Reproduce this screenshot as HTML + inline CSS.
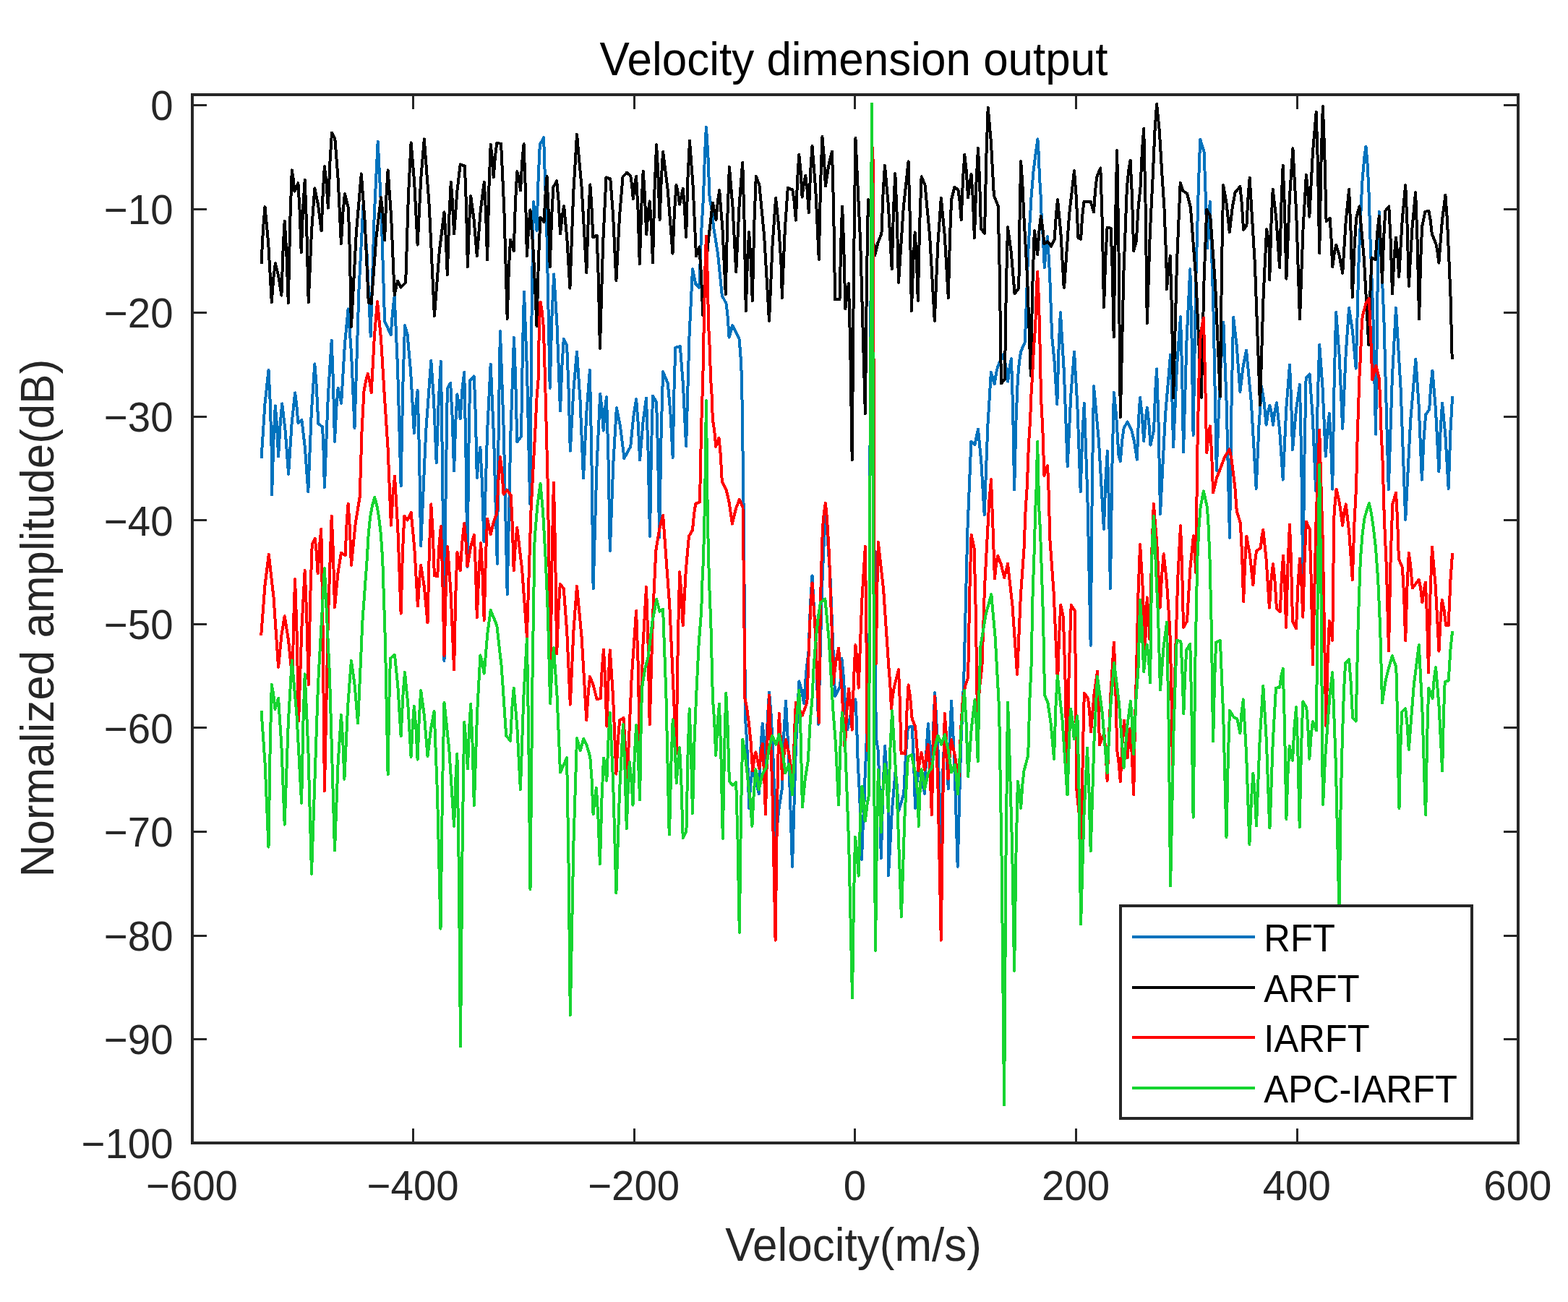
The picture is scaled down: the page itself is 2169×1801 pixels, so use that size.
<!DOCTYPE html>
<html lang="en"><head><meta charset="utf-8"><title>Velocity dimension output</title>
<style>html,body{margin:0;padding:0;background:#fff;}body{width:2169px;height:1801px;overflow:hidden;}svg{display:block;}text{font-family:"Liberation Sans",Arial,Helvetica,sans-serif;}.tk{font-size:56.4px;fill:#262626;}.lb{font-size:62px;fill:#262626;}.tt{font-size:62px;fill:#000;}.lg{font-size:50.7px;fill:#000;}.c{fill:none;stroke-linejoin:round;stroke-linecap:butt;shape-rendering:crispEdges;}</style></head><body>
<svg width="2169" height="1801" viewBox="0 0 2169 1801" role="img" aria-label="Velocity dimension output">
<rect x="0" y="0" width="2169" height="1801" fill="#ffffff"/>
<g id="curves">
<polyline class="c" stroke="#0072BD" stroke-width="4.0" points="361.5,634.3 366.5,558.4 371.5,511.9 373.7,555.4 375.8,626.5 376.1,684.5 378.5,608.1 380.8,561.3 383,588 385.1,631.4 387.7,586.2 390.2,558.4 394.6,595.4 399.1,655.8 403.6,586.1 408.1,543.4 410.2,559.2 412.4,585 417.4,580.7 421.8,618.5 426.3,680.2 430.8,570.5 435.3,503.3 437.8,534.6 440.3,585.7 446.1,590.7 447.5,622.5 448.9,674.4 453.8,548.3 458.7,471 460.8,524.1 463,610.8 465.3,565 467.6,536.9 472.1,557.7 476.9,476.9 481.6,427.3 486.1,489.9 490.5,592.1 496.5,400.5 502.5,283 507.6,352.3 512.7,465.3 517.7,298.3 522.7,195.9 527.4,290.4 532.1,444.5 540.7,463.1 543.2,430.3 545.7,410.1 550.1,509.7 554.6,672.3 557.3,534.6 560,450.2 563.6,463.1 568.2,514.9 572.9,599.3 575.3,562.4 577.6,539.8 579.9,621.7 582.2,755.4 589.2,596.4 596.3,499 600,552.6 603.7,640 606.8,553 609.9,499.7 612.2,657.3 614.5,914.4 616.6,680.8 618.8,537.7 623.1,529.8 625.6,576 628.1,651.5 630.2,585.8 632.4,545.5 634.5,558.3 636.7,579.2 639.4,539.2 642.2,514.7 644.3,617.1 646.5,784.1 648.3,624.2 650.1,526.2 655.8,520.5 657.8,573.8 659.8,660.8 662.1,634.7 664.4,618.6 666.9,668.2 669.4,749 674.1,596.8 678.7,503.5 683.2,608.5 687.8,779.8 689.8,580.3 691.9,458.1 696.8,596.4 701.7,822.1 706.3,601.9 711,467 713.1,521.9 715.3,611.5 721,603.6 723,479.6 725,403.6 729.1,515.3 733.2,697.4 735.5,438 737.8,279.1 740.1,294.3 742.5,319.2 744.7,245.4 746.8,200.2 752.1,190.2 756.4,322 760.7,536.9 763.4,439.3 766.2,379.4 770.6,451.2 775,568.5 777.4,506.7 779.8,468.9 784.1,477.5 786.4,533 788.8,623.7 793.4,538.8 798,486.8 802.5,553.2 807,661.5 811.5,568.7 815.9,511.9 818.3,626.7 820.6,814.2 825.4,647.2 830.2,544.8 832.5,564.2 834.7,595.7 836.8,566.8 839,549.1 841.4,630 843.8,761.9 848.4,639.3 852.9,564.2 857.9,589 862.9,629.4 863.2,634.3 872.2,617.9 876.2,577 880.1,552 882.6,584.1 885.1,636.4 889.6,583.2 894,550.6 896.5,623.2 899,741.8 901,621.5 903,547.7 908.1,556.3 910.1,627.3 912.1,743.2 914.6,601.1 917.1,514 923.8,530.5 927.3,569.4 930.7,632.9 932.5,538.7 934.3,481 940.8,478.9 944.9,531.5 949.1,617.2 953.5,465.3 958,372.2 962.3,392.9 967.3,397.9 970.2,320.7 973,273.3 975,212.9 976.9,175.9 979.3,212.9 981.6,273.3 984.5,289.7 987.4,316.3 993.1,351.4 998.8,408.7 1004.6,420.1 1006.6,437.8 1008.6,466.7 1013.2,450.2 1022.5,468.9 1024.3,489.6 1026.1,523.3 1028.6,702.4 1031.1,994.7 1032.9,1021.9 1034.7,1066.3 1036.1,1117.9 1038.2,1085.9 1040.4,1066.3 1045.1,1078.3 1049.7,1097.9 1052.2,1037.9 1054.7,1001.1 1057,1023.2 1059.3,1059.2 1061.7,996.1 1064,957.4 1066.6,987.9 1069.1,1037.7 1070.9,1087.5 1072.6,1168.7 1077.2,1120.8 1081.7,1091.4 1084.3,1015.9 1087,969.6 1091.5,1056.7 1096,1198.8 1100.7,1039.8 1105.3,942.3 1108.7,954.1 1112.1,973.2 1115.3,928.7 1118.5,901.5 1121,836.3 1123.5,796.3 1127.8,874.4 1132.1,1001.8 1137,814.7 1141.9,700 1148.5,800 1155.1,963.1 1162.2,948.8 1164.4,910.8 1166.9,937.2 1169.4,980.3 1170.8,991.2 1172.3,1009 1177.8,983.2 1183.4,967.4 1185,999.6 1186.6,1052 1189.3,1104 1192,1188.8 1193.8,1139.9 1195.5,1110 1196.8,1066.6 1198.2,1040 1199.5,990 1201,921.8 1202.5,880 1203.4,640 1204.6,400 1205.5,280 1206.2,250 1207.2,400 1208.4,640 1210.8,900 1211.8,1020 1214.8,1039.1 1216.8,1095.4 1218.8,1187.3 1221.5,1091 1224.1,1031.9 1226.4,1066.8 1228.7,1123.7 1229,1211 1233.9,1121.3 1238.7,1066.3 1240.9,1087.6 1243,1122.2 1250.2,1097.9 1253.1,1041 1255.9,1006.1 1261.7,1004.7 1263.8,1047.7 1266,1117.9 1268.1,1085.9 1270.3,1066.3 1274.7,1078.3 1279.2,1097.9 1281.5,1037.9 1283.9,1001.1 1286.4,1036.8 1288.9,1095 1291,1010.1 1293.2,958.1 1297.5,1037 1301.8,1165.8 1304.3,1068.6 1306.8,1009 1309.3,1040.3 1311.8,1091.4 1314,1015.9 1316.1,969.6 1320.4,1056.7 1324.7,1198.8 1329,1036.7 1333.3,937.3 1338.3,734.9 1343.4,610.8 1348.4,615.1 1353,593.6 1357.3,638.7 1361.7,712.4 1366.3,589.8 1370.9,514.7 1375.6,531.2 1378.1,515.7 1380.6,506.1 1387.8,490.4 1391,504.5 1394.2,527.6 1396.6,508.1 1399,496.1 1401.1,565 1403.1,677.3 1405.5,581.8 1407.9,523.3 1410,500.2 1412.2,486.1 1417.9,473.2 1422.2,349.3 1426.5,273.3 1429.4,237.8 1432.2,216 1435.4,192.3 1436.7,212.2 1438,244.7 1439.4,266.4 1440.8,302 1442.8,327.9 1444.8,370.1 1447,343.4 1449.1,327.1 1452.1,379.9 1455.2,466 1458.7,501.4 1462.3,559.2 1464.6,480.5 1466.9,432.3 1471.8,513.2 1476.7,645 1481.3,546.9 1486,486.8 1490.3,560.3 1494.7,680.2 1497.2,604.3 1499.8,557.7 1504.3,685.1 1508.7,892.9 1510.8,670.4 1513,534.1 1519.9,609.2 1526.9,731.8 1529.4,664.7 1531.9,623.7 1533.9,696.1 1535.9,814.2 1538.4,645.8 1540.9,542.7 1544.2,575.6 1547.4,629.4 1549.8,637.9 1552.2,609.5 1554.6,592.1 1559.6,583.5 1565.3,595 1569,610.5 1572.8,635.7 1574.9,582.5 1577.1,549.8 1579.6,572.7 1582.2,610 1584.5,581.2 1586.8,563.5 1589.2,583.3 1591.5,615.8 1596.1,595 1598.1,542.6 1600.1,510.4 1602.6,586.6 1605,711 1612,574.2 1619.1,490.4 1621.1,539.1 1623.1,618.6 1628,506.7 1633,438 1635,509.1 1637,625.1 1641.6,468.3 1646.3,372.2 1648.4,459.6 1650.6,602.2 1654.2,389.4 1657.8,259 1660.2,192.6 1665.6,210.3 1667.8,273.3 1669.9,343.6 1671.9,303.6 1673.8,279.1 1678.3,420.3 1682.8,650.8 1687.6,523.8 1692.4,445.9 1696.7,559.2 1701,743.9 1703.6,554.7 1706.1,438.8 1710.7,478 1715.4,542 1719.7,506.4 1724.1,484.6 1730.9,557.3 1737.7,675.9 1741.5,588.4 1745.2,534.8 1748.4,554.9 1751.6,587.8 1754,570.9 1756.4,560.6 1758.7,570.9 1761,587.8 1763.5,568.7 1766,557 1770.3,597.5 1774.7,663.7 1779.3,565.1 1784,504.7 1786,549.4 1788,622.2 1793,566.2 1798,531.9 1800.2,634.6 1802.3,802 1804.5,629.2 1806.6,523.3 1811.6,517.6 1815.9,579.1 1820.2,679.4 1822.7,553.8 1825.2,476.7 1829.5,535.5 1833.8,631.4 1836.4,594.6 1838.9,572.1 1841,611.8 1843.2,676.6 1845.7,524.7 1848.2,431.6 1852.7,492.9 1857.2,592.8 1861.7,489.3 1866.1,425.9 1870.9,457.7 1875.7,509.7 1879.5,363.2 1883.3,273.3 1884.7,246.7 1886.2,230.3 1887.8,213.2 1889.5,202.7 1891.4,224.1 1893.3,259 1895.5,330.7 1899.3,433.3 1903.1,600.7 1905.4,409.7 1907.7,292.7 1914.3,438.8 1920.8,677.3 1925.9,521.4 1931,425.9 1937.6,537.2 1944.2,718.9 1951.2,581.2 1958.3,496.8 1962.6,560.2 1966.9,663.7 1969.5,607.8 1972.2,573.5 1977.2,566.3 1979.3,533 1981.5,512.6 1985.9,565.6 1990.4,652.2 1992.7,593.6 1995.1,557.7 1999.4,602.6 2003.7,675.9 2006.4,596.8 2009.1,548.4"/>
<polyline class="c" stroke="#000000" stroke-width="4.0" points="361.5,365.1 364,316.2 366.5,286.2 371.2,336.3 375.8,418 378.3,384.7 380.8,364.3 385.1,381.2 389.4,408.7 391.6,344.8 393.7,305.6 396.3,348.8 398.8,419.4 401.3,305.3 403.8,235.3 405.6,246.5 407.4,264.7 412.4,253.3 414.5,289.8 416.7,349.3 419.2,287.1 421.7,249 424.2,313.2 426.7,418 431,320.3 435.3,260.4 440,282.8 444.6,319.2 446.8,264.1 448.9,230.3 451.4,252.1 453.9,287.7 456.5,223.2 459,183.7 463.3,191.6 467.6,246.9 471.9,337.1 474.4,294.5 476.9,268.3 481.9,287.7 483.9,350.3 485.9,452.4 492.9,320.9 499.8,240.4 504.8,308.1 509.8,418.7 513.7,420.1 520.4,329.1 527,273.3 529.6,295.7 532.1,332.1 534.4,272.1 536.6,235.3 541.2,300.9 545.7,407.9 550,388.6 554.6,397.5 561.2,390.7 564.9,270.9 568.6,197.4 573.1,251 577.6,338.5 582.2,247.9 586.8,192.3 593.8,285.4 600.9,437.3 607.7,348.1 614.5,293.4 616.6,326.3 618.8,380 621.3,300.5 623.8,251.8 625.9,279.1 628.1,323.5 632.4,264 636.7,227.5 642.9,229.6 644.9,282.7 646.9,369.4 649.1,308.5 651.2,271.2 655.5,302.8 659.8,354.3 664.8,290.6 669.8,251.5 672,292.5 674.1,359.3 676.4,260.5 678.7,199.9 680.7,217.2 682.7,245.4 685,216.1 687.3,198.1 693.1,198.8 697.4,290.8 701.7,440.9 703.8,373 706,331.4 710.7,347.1 713,279 715.3,237.2 717.6,247.1 720,263.3 722.3,223.6 724.6,199.2 726.7,258.2 728.9,354.3 731.2,314.8 733.5,290.5 738,351.5 742.5,450.9 745,357.7 747.5,300.6 752.5,307 754.6,267.9 756.6,243.9 758.6,291.6 760.7,369.4 763.1,300.9 765.4,259 770.2,250.1 772.6,278 775,323.5 777.6,299.8 780.1,285.2 784.2,328.3 788.4,398.6 793.2,266.7 798,185.9 804.6,258.6 811.3,377.2 813.8,301.7 816.3,255.4 818.3,283.2 820.3,328.5 825.6,325.6 827.8,385 829.9,481.8 834.2,335.2 838.5,245.4 844.3,247.5 848.1,297.6 851.9,379.4 852.4,387.9 857,299.1 861.5,244.7 867.2,238.6 872.2,243.2 874,255.5 875.8,275.5 878,255.9 880.1,243.9 882.5,290 884.8,365.1 887.3,285.5 889.7,236.8 891.9,270 894.2,324.2 896.4,295.8 898.7,278.3 900.9,310.8 903,363.6 905.5,262.3 908.1,200.2 910.3,239.7 912.6,304.1 914.9,245.8 917.1,210 923.8,263.5 930.5,350.7 933,292.1 935.5,256.1 937.8,266.2 940.1,282.6 944.7,261.1 946.9,286.5 949.1,327.8 951.5,245.3 954,194.8 958.5,255.4 963,354.3 967.3,341.4 969.8,377.3 972.3,435.9 979.1,339.5 985.9,280.5 990.5,304.1 992.9,278.8 995.2,263.3 999.5,318 1003.8,407.2 1006.4,298 1008.9,231 1013.5,286.3 1018.2,376.5 1022.7,282.3 1027.2,224.6 1029.5,302.7 1031.8,430.2 1033.9,362.7 1036.1,321.3 1038.5,357.5 1040.8,416.5 1043.3,309.5 1045.8,243.9 1050.4,256.1 1057.2,327.4 1064,443.8 1068.6,338.4 1073.1,273.8 1077.2,313.1 1081.2,377.2 1081.7,412.2 1085.8,317.7 1089.8,259.7 1096.3,262.6 1098.6,278.5 1100.9,304.6 1103.1,248.3 1105.3,213.8 1107.5,236.2 1109.6,272.6 1111.9,254 1114.2,242.5 1116.5,262.1 1118.8,294.1 1121.2,236.8 1123.5,201.7 1128.2,261.4 1132.8,358.9 1135.1,253.6 1137.4,189.1 1139.7,215.1 1141.9,257.6 1146.5,227.8 1151,209.5 1153.1,287.4 1155.1,414.4 1161.5,414.4 1163.3,334.5 1165.1,285.5 1167.2,339.4 1169.4,427.3 1171.7,405.5 1174,392.2 1176.3,485 1178.7,636.4 1181.1,360.2 1183.4,190.9 1190.2,335.7 1196.9,572.1 1198.9,388.6 1200.9,276.2 1205.5,305.6 1210.1,353.6 1214.7,334.9 1219.4,323.5 1221.7,264.8 1224,228.9 1228.8,283.4 1233.7,372.2 1236,290.3 1238.3,240.1 1240.7,297.3 1243,390.7 1249.8,286.8 1256.6,223.2 1258.8,301.8 1260.9,430.2 1263.3,362.7 1265.7,321.3 1267.8,357.2 1269.8,415.8 1272.2,309.4 1274.6,244.2 1279.6,256.1 1286.2,327.4 1292.8,443.8 1297.3,338.4 1301.8,273.8 1306.8,326.4 1311.8,412.2 1314,327.9 1316.1,276.2 1320.4,259 1325.4,262.6 1327.6,278.4 1329.7,304.1 1332,248.2 1334.3,213.8 1336.7,236.4 1339.1,273.3 1341.4,253.3 1343.6,241.1 1345.8,274.6 1347.9,329.2 1350.5,252.2 1353,205 1355,247.3 1357,316.3 1362,322.8 1364.4,215.1 1366.7,149.1 1370.8,195.2 1374.9,270.5 1380.6,284.8 1382.8,378.2 1384.9,530.5 1389.9,524.8 1391.9,394.2 1394,314.2 1398.8,349.3 1403.6,406.5 1409.3,398.6 1410.7,289.8 1412.2,223.2 1414.3,253.1 1416.5,302 1421.1,384.7 1425.8,519.7 1428.3,395.4 1430.8,319.2 1432.9,331.7 1435.1,352.2 1437.5,319.3 1439.8,299.1 1442.1,313.6 1444.4,337.1 1449.4,334.2 1454.2,340.7 1458.7,330.7 1460.9,296.9 1463,276.2 1467.4,322.4 1471.7,397.9 1472.1,397.9 1479,297.6 1486,236.1 1488.7,271.5 1491.5,329.2 1495.1,330.7 1497.2,298.7 1499.4,279.1 1508.7,279.1 1513,293.4 1515.1,263.2 1517.3,244.7 1522.3,232.5 1524.7,305.7 1527,425.1 1529.3,356.8 1531.6,314.9 1536.6,315.6 1538.7,372.8 1540.7,466 1543,306.1 1545.2,208.1 1547.5,348.3 1549.8,577.1 1554.3,379.9 1558.9,259 1561.2,235.9 1563.6,221.7 1565.9,269.4 1568.2,347.1 1571.8,333.5 1574.6,287.3 1577.5,259 1579.9,208.8 1582.2,178 1584.5,280.4 1586.8,447.4 1590.8,321.7 1594.7,244.7 1597.4,182.2 1600.1,143.9 1603.9,182.2 1607.6,244.7 1610.5,288.2 1613.3,359.3 1614,400.1 1616.4,371.3 1618.8,353.6 1620.9,428.4 1623.1,550.6 1627.9,366 1632.7,252.8 1636.3,264 1642,267.6 1647,287.7 1654.4,387.3 1661.8,549.8 1665.5,388.6 1669.2,289.8 1674.2,299.1 1681.1,393.9 1687.9,548.4 1690,367.2 1692.2,256.1 1696.5,280.9 1700.8,321.3 1704.7,287.1 1708.6,266.2 1715.4,258 1717.7,280.7 1720.1,317.8 1724.4,312 1726.6,271.1 1728.7,246.1 1735.9,365.6 1743,560.6 1747.6,409.6 1752.1,317 1754,327.7 1755.9,345 1756.2,387.2 1758.5,309.5 1760.7,261.9 1765.4,303 1770.1,370.1 1772.4,282.5 1774.7,228.9 1777,288.5 1779.4,385.7 1783.9,273.8 1788.4,205.2 1793.2,295.1 1798,441.6 1802.5,317.7 1806.9,241.8 1809.1,263.9 1811.3,299.8 1816,210.1 1820.7,155.1 1823,229.2 1825.2,350 1827.5,224.3 1829.8,147.2 1832.2,207.7 1834.6,306.3 1839.6,302 1841.4,327.6 1843.2,369.4 1845.7,350.3 1848.2,338.5 1852.7,353.5 1857.2,378 1861.7,306 1866.1,261.9 1868.5,318.7 1870.8,411.5 1873.5,343.6 1876.1,302 1880.4,285.5 1886.9,358.5 1893.3,477.5 1895.5,402.4 1897.6,356.5 1902.6,359.3 1905.2,322 1907.7,299.1 1909.8,333.9 1912,390.7 1914.1,329.5 1916.3,292 1921.3,285.5 1923.6,331.5 1926,406.5 1928.4,358.2 1930.9,328.5 1933,349.2 1935.2,382.9 1939.7,304.3 1944.2,256.1 1946.5,309.2 1948.8,395.8 1953.5,315.4 1958.1,266.2 1960.6,332.8 1963.1,441.6 1965.1,362.2 1967.1,313.5 1971.4,292.7 1976.5,292 1978.6,303.9 1980.8,323.5 1986.5,337.8 1988.4,347.6 1990.4,363.6 1994.9,305.4 1999.4,269.7 2001.9,303.8 2004.4,359.3 2006.6,411.6 2008.7,496.8"/>
<polyline class="c" stroke="#FF0000" stroke-width="4.0" points="361.2,879.4 366.5,809.6 371.8,766.9 378.5,826.2 385.1,923 389.4,879.1 393.7,852.2 399.1,886.2 404.5,941.6 406.3,854.6 408.1,801.3 410.6,875.9 413.1,997.5 417.4,868.3 421.7,789.1 424.2,849.2 426.7,947.4 429.2,827 431.7,753.3 435.7,744.7 437.7,763.2 439.6,793.4 442,755.4 444.3,732 446.6,869.7 448.9,1094.3 453.8,858.4 458.7,713.8 460.8,761.8 463,840 467.4,793.3 471.9,764.7 477.6,768.3 479.6,723.9 481.6,696.6 483.8,729.1 485.9,781.9 491.8,723.3 497.7,687.3 500.5,597.2 503.4,542 506.1,526.4 508.8,516.9 511.3,527 513.7,543.4 517.9,465 522,417 527,468.3 532.1,552 536.5,618.4 540.9,726.7 543.5,684.5 546,658.7 550.3,730.8 554.6,848.6 556.9,765 559.3,713.8 563.6,719.6 568.6,708.8 573.3,758.1 577.9,838.5 580.1,803.4 582.2,781.9 586.9,812.2 591.5,861.5 593.9,759.7 596.3,697.4 598.6,734.9 600.9,796.3 605.2,797 607.5,754.3 609.9,728.2 612.2,796.2 614.5,907.2 616.8,813.5 619.1,756.1 623.6,820.9 628.1,926.6 630.2,825.8 632.4,764 634.5,773.5 636.7,789.1 639.4,748.7 642.2,723.9 644.3,746.5 646.5,783.4 651.1,756.5 655.8,740.1 657.8,783.5 659.8,854.3 662.5,790.3 665.1,751.1 667.4,791.7 669.7,857.9 671.9,771 674.1,717.7 678.7,739.2 683,721.3 687.3,710.3 689.6,661.8 691.9,632.1 694.3,651.8 696.6,683.7 701.7,678 706.7,685.2 708.7,724.7 710.7,789.1 713,752.4 715.3,729.9 722.1,787.2 728.9,880.7 734.6,703.6 740.4,595 742.5,550.6 744.7,523.3 745.8,451.7 747.5,417.6 749.7,430.5 751.8,451.7 754,523.3 757.8,673.3 761.6,918 763.7,762.7 765.9,667.6 768,757.5 770.2,904.4 772.5,844.6 774.8,808 779.8,814.2 784.3,875.1 788.8,974.6 793.4,873.1 798,810.9 804.6,881.3 811.3,996.1 813.7,958.8 816,935.9 820.8,947.9 825.6,967.4 830.7,966 832.8,924.2 835,898.6 837.1,938.9 839.3,1004.7 841.6,939.4 843.8,899.3 848.1,964.4 852.4,1070.6 854.8,1024.4 857.2,996.1 862.5,993.2 864.8,1029.2 867.2,1087.8 873.7,937.3 880.1,845 882.5,913.8 884.8,1026.2 889.4,893.4 894,812 896.4,884.4 898.7,1002.5 903,853.3 907.3,761.9 912.2,731.5 917.1,712.8 926.3,838.2 935.5,1042.7 937.8,886.8 940.1,791.2 942.4,819.3 944.7,865.1 948.8,788.6 953,741.8 958,733.2 960.1,710.5 962.3,696.6 968,694.5 970.2,588.4 972.3,523.3 973.7,451.7 975.3,374 976.9,326.4 978.5,374 980.2,451.7 981.6,478.9 983.1,523.3 984.5,545.1 985.9,580.7 988.1,594.8 990.2,617.9 994.5,605.7 996.7,628.6 998.8,665.8 1004.6,677.3 1008.7,695.3 1012.9,724.6 1017.9,703.7 1022.9,690.9 1027.5,701.7 1028.9,802.1 1030.4,966 1033.2,979.6 1036.1,1001.8 1038.6,1026.3 1041.1,1066.3 1043.3,1050.3 1045.4,1040.5 1050.4,1063.5 1052.6,1042.1 1054.7,1029.1 1056.9,1066.1 1059,1126.5 1061.5,1024.3 1064,961.7 1068.3,1090.5 1072.6,1300.6 1075.2,1106 1077.7,986.8 1079.8,1021.4 1082,1077.8 1084.5,1044 1087,1023.3 1092,1046.2 1097,1083.5 1098.9,1014.2 1100.9,971.7 1109.9,989.6 1116.4,971.7 1118.5,908.7 1121,845.2 1123.5,806.3 1128.2,879.8 1132.8,999.7 1134.3,877.1 1135.7,802 1137.9,730.3 1139.9,709 1141.9,695.9 1143.8,714.4 1145.7,744.7 1147.2,771.9 1148.6,816.3 1150.5,865.6 1152.5,945.9 1156.3,915.3 1160.1,896.5 1164.4,949.9 1168.7,1036.9 1171.3,984.5 1174,952.4 1176.3,974.2 1178.7,1009.7 1181.1,936.8 1183.4,892.2 1185.6,914.8 1187.7,951.7 1192.3,830.3 1196.9,755.8 1198.3,863.1 1199.7,1038 1201.5,1000 1202.9,880 1203.6,630 1205,380 1206.3,260 1207.4,204.5 1208.1,300 1208.8,630 1209.3,900 1211.8,918 1213.3,813.6 1214.8,749.7 1222.1,815.5 1229.4,923 1231.2,944.8 1233,980.3 1235.1,960.8 1237.3,948.8 1243,925.9 1244.8,970 1246.6,1042 1252.3,1042.7 1254.5,983.6 1256.6,947.4 1259.2,965.3 1261.7,994.7 1266,1004.7 1268.1,1028.1 1270.3,1066.3 1272.4,1050.8 1274.6,1041.2 1279.2,1064.9 1281.5,1043.1 1283.9,1029.8 1286.4,1066.8 1288.9,1127.2 1291,1025.5 1293.2,963.1 1297.5,1091.4 1301.8,1300.6 1304.3,1106 1306.8,986.8 1309.2,1021.4 1311.5,1077.8 1313.8,1044 1316.1,1023.3 1321.1,1046.2 1326.2,1083.5 1329,1010.7 1331.9,966 1335.5,948.2 1339.1,937.3 1341.4,814.8 1343.6,739.6 1347.7,759 1349.8,848 1352,993.2 1355.2,949.7 1358.4,923 1362,812.4 1365.6,744.7 1368.3,694 1371,663 1373.5,730.3 1375.9,800.6 1378,780.8 1380.2,768.7 1384.7,780.3 1389.2,799.1 1394,779.8 1400.5,838 1407.1,933 1411.8,825.1 1416.5,759 1418.6,705.7 1420.8,673 1422.9,615.7 1425.1,580.7 1426.5,545.1 1427.9,523.3 1430.1,478.9 1432.2,451.7 1433.7,404.6 1435.1,375.8 1436.5,404.6 1438,451.7 1440.1,552 1442.3,592.3 1444.4,657.9 1449.1,643.9 1450.7,682.2 1452.3,744.7 1457.7,820.6 1463,944.5 1465.2,877.9 1467.3,837.1 1470.9,853.6 1473.4,934.4 1475.9,1066.3 1478.8,924 1481.7,836.8 1486.7,845 1488,938.9 1489.3,1092.1 1492.6,1125 1495.8,1178.7 1497.8,1042.4 1499.8,958.8 1505.1,966 1507.1,983.7 1509,1012.6 1513.5,960.6 1518,928.7 1519.4,967.4 1520.9,1030.5 1527.3,1014 1529.5,1039.1 1531.6,1079.9 1536.3,961.3 1540.9,888.6 1543.1,945.2 1545.2,1037.7 1547.5,1054.3 1549.8,1081.4 1552.4,1028.9 1555,996.8 1557.3,1016.4 1559.6,1048.4 1561.4,1023.5 1563.2,1008.3 1565.7,1042.9 1568.2,1099.3 1570,998.9 1571.8,937.3 1574.4,823.2 1577.1,753.3 1580.5,809.6 1583.9,901.5 1585.4,854.9 1586.8,826.4 1588.6,848.4 1590.4,884.3 1593.1,768.1 1595.8,696.9 1600.3,751.6 1604.7,840.7 1607.2,794.5 1609.7,766.2 1614,805.9 1618.3,870.8 1620.1,941.8 1621.9,1057.7 1623.7,974.2 1625.5,923 1629.2,801.6 1633,727.2 1635,780.7 1637,867.9 1642,859.3 1646.4,786 1650.9,741.1 1652.5,760.4 1654.2,792 1656.3,625.4 1658.5,523.3 1660.6,466 1662.8,449.6 1664.9,439.5 1667.1,523.3 1669.2,626.5 1671.5,603.4 1673.8,589.3 1676,624.3 1678.1,681.6 1683,661.2 1687.9,648.6 1694.3,631.8 1700.8,621.5 1703.6,635.6 1706.5,658.7 1708.6,677.2 1710.8,707.4 1715.8,723.2 1718,764.6 1720.1,832.1 1722.3,776.1 1724.4,741.8 1728.9,767.4 1733.4,809.2 1735.7,779.8 1738,761.9 1743.8,758.3 1745.5,742.5 1747.3,732.9 1751.6,773.9 1755.9,840.7 1758.4,803.2 1761,780.2 1763.5,803.7 1766,842.1 1770.8,846.4 1772.9,798.3 1775.1,768.7 1777.1,806.4 1779.1,867.9 1781.5,779.8 1784,725.7 1786,776.5 1788,859.3 1793,869.4 1795.5,809.4 1798,772.6 1800.2,803.4 1802.3,853.6 1804.7,771.8 1807,721.7 1811.6,731.8 1813.8,803.1 1815.9,919.4 1820.6,718.3 1825.2,595 1829.8,750.4 1834.3,1004 1836.6,913.8 1838.9,858.6 1841,868.9 1843.2,885.7 1845.3,716 1847,691.6 1848.6,676.6 1852.9,695.6 1857.2,726.7 1859.5,708.5 1861.8,697.4 1866.3,737.1 1870.8,802 1873.5,722 1876.1,673 1877.6,606.9 1879,566.3 1880.4,521.9 1881.9,494.7 1883.3,459.1 1884.7,437.3 1889.7,418.7 1893.8,413 1896.2,466 1898.3,525.5 1903.4,506.1 1907.7,523.3 1909.1,550.6 1910.5,595 1912.7,641 1914.8,716 1917.9,785.9 1921,900.1 1923.6,774.4 1926.3,697.4 1931,681.6 1933,716.5 1934.9,773.3 1939.9,784.8 1942.1,823.4 1944.2,886.4 1946.5,811 1948.8,764.7 1951.3,783.2 1953.8,813.5 1962.8,801.6 1965.1,813.7 1967.4,833.5 1969.7,816.2 1971.9,805.6 1974,852.9 1976,930.2 1978.5,822.5 1981,756.6 1985.8,811.4 1990.5,900.8 1992.7,856.7 1994.8,829.7 1997.5,843.1 2000.1,865.1 2003.7,865.1 2006.4,803.3 2009.1,765.4"/>
<polyline class="c" stroke="#16D430" stroke-width="4.0" points="361.5,983.2 366.5,1054.8 371.5,1171.6 373.7,1032.1 375.8,946.6 378.1,959.7 380.4,981 385.1,965.7 389.4,1032.2 393.7,1140.7 398.8,999.7 403.8,913.3 410.4,988.3 417.1,1110.8 419.4,1000.1 421.7,932.3 426.4,1037.4 431,1208.8 440,946.8 448.9,786.2 456,934.6 463,1176.6 467.4,1060.2 471.9,988.9 474.2,1022.7 476.4,1077.8 481.2,976 485.9,913.7 490.5,946.6 495.1,1000.4 501.4,859.6 507.7,773.3 509.8,737.8 512,716 515.1,698.7 518.2,688 521.2,698.7 524.2,716 526.7,737.8 529.2,773.3 532.9,886.6 536.6,1071.3 538.3,971.8 539.9,910.8 546,905.8 550.3,948.6 554.6,1018.3 557.3,963.5 560,929.9 564.3,974.4 568.6,1047 570.8,1003.4 572.9,976.7 575.3,1004.8 577.6,1050.6 579.9,991.5 582.2,955.2 586.9,989.8 591.5,1046.3 596.1,1007.6 600.6,983.9 605,1098.2 609.5,1284.8 612,1090.7 614.5,971.7 621.3,1036.8 628.1,1142.9 630.2,1080.8 632.4,1042.7 634.7,1196.4 637,1447.1 639.6,1169.1 642.2,998.7 644.5,1023.3 646.9,1063.5 649.1,1007.9 651.2,973.9 653.5,1027.3 655.8,1114.3 660.1,985.5 664.4,906.5 667.1,916 669.7,931.6 674.2,877.3 678.7,844 687.3,865.1 693.8,923 700.2,1017.6 706,1024.8 708.3,979.4 710.7,951.7 715.3,1005 719.9,1092.1 724.4,962.8 728.9,883.6 731.2,1015.3 733.5,1230.3 736.6,929.2 739.6,744.7 743.6,697.6 747.5,668.7 751.1,708.5 754.7,773.3 757.9,849.3 761.1,973.2 763.5,925.4 765.9,896.1 770.5,961.6 775,1068.5 784.1,1048.4 786.4,1183.6 788.8,1404.1 793.4,1166.7 798,1021.2 802.7,1038.4 807.3,1021.9 811.8,1031.4 816.3,1047 818.5,1077.2 820.6,1126.5 822.8,1103.9 824.9,1090 827.4,1130 829.9,1195.2 832.5,1104.2 835,1048.4 837.1,1060.4 839.3,1079.9 841.6,1021.7 843.8,986.1 848.1,1080.8 852.4,1235.3 857.2,1090.7 861.9,1002.1 864.3,1057 866.8,1146.5 868.8,1089.2 870.8,1054.1 873.2,1076.7 875.5,1113.6 877.8,1045.2 880.1,1003.3 882.6,1042.5 885.1,1106.5 886.6,1010.5 888,951.7 892.3,925 896.6,908.7 902.5,859.2 908.3,828.9 912.4,845.7 917.1,842.8 921.4,960.9 925.7,1153.6 926,1154.4 928.4,1055.8 930.7,995.4 933.3,1028.9 935.8,1083.5 937.9,1052.9 940.1,1034.1 942.4,1081.7 944.7,1159.4 949.4,1150.1 951.5,1044.8 953.7,980.3 955.8,1035.3 958,1125.1 960.5,1026.5 963,966 966.6,891 970.2,845 971.6,800.6 973,773.3 975.2,687.3 976.9,554.1 978.8,716 980.9,802 983.4,864.3 985.9,966 988.1,996 990.2,1044.8 992.6,1000.8 995,973.9 997.4,1044.5 999.8,1159.8 1002.1,1035.2 1004.3,958.8 1006.6,1005.1 1008.9,1080.7 1013.2,1086.4 1018.2,1082.1 1020.5,1161 1022.8,1289.8 1025,1124.1 1027.2,1022.6 1030.9,1044.7 1034.7,1080.7 1037.5,1104.3 1040.4,1142.9 1042.9,1094.1 1045.4,1064.2 1047.6,1074.8 1049.7,1092.1 1054.7,1070.6 1059.7,1062 1064,1034.5 1068.3,1017.6 1073.4,1029.8 1077.7,1016.2 1082,1036.3 1086.3,1069.2 1091.3,1057 1093.6,1073.1 1096,1099.3 1100.7,1009.5 1105.3,954.5 1107.6,1016.1 1109.9,1116.5 1113.9,1076.5 1117.8,1052 1120.7,998.7 1123.5,966 1125.7,921.6 1127.8,894.3 1131.4,856.6 1135,833.5 1141.4,828.5 1146.8,886.2 1152.2,980.3 1156.1,1031 1160.1,1113.6 1162.4,1034.5 1164.8,986.1 1167.1,1005.7 1169.4,1037.7 1174.2,1168 1179,1380.6 1181,1242.5 1183,1157.9 1185.4,1178.4 1187.7,1211.7 1190,1134.9 1192.3,1087.8 1194.5,1106 1196.6,1135.7 1196.9,1135.7 1199.4,1113.6 1201.9,1100 1202.2,1000 1202.9,880 1203.6,630 1205,380 1205.6,200 1205.9,143.6 1206.3,200 1207,380 1208.2,630 1208.6,880 1209.1,1000 1209.4,1100 1211,1314.9 1212.9,1159.9 1214.8,1064.9 1216.8,1097.8 1218.8,1151.5 1221.5,1092.9 1224.1,1057 1226.4,1081.8 1228.7,1122.2 1231.4,1036 1234.1,983.2 1240.5,1091.5 1246.9,1268.3 1251.4,1131.1 1255.9,1047 1260.9,1044.1 1265.6,1066.7 1270.3,1103.6 1270.6,1142.9 1272.6,1094.1 1274.6,1064.2 1276.9,1074.5 1279.2,1091.4 1283.9,1069.2 1288.9,1062 1293.2,1034.5 1297.5,1017.6 1302.2,1029.8 1306.8,1016.2 1311.5,1036 1316.1,1068.5 1320.7,1057.7 1322.9,1073.2 1325,1098.6 1329.5,1009.7 1334,955.2 1336.6,1000.5 1339.1,1074.2 1343.7,1008.5 1348.4,968.1 1350.5,1000.6 1352.7,1053.4 1354.5,954.8 1356.3,894.3 1363.8,849.5 1371.3,822.1 1376.7,882.2 1382.1,980.3 1385.6,1188.6 1389.1,1528.5 1391.5,1183.3 1394,971.7 1395.5,1007.7 1397.1,1066.3 1400.1,1171.4 1403.1,1342.8 1405.5,1180.3 1407.9,1080.7 1410,1094.8 1412.2,1117.9 1414.3,1085.9 1416.5,1066.3 1422.2,1044.8 1424.3,969.3 1426.5,923 1428.6,821.3 1430.8,759 1432.2,705.7 1433.7,673 1435.1,610.8 1437.2,701.7 1439,734.3 1440.8,787.7 1443,853.8 1445.1,961.7 1449.4,971.7 1453.7,1001.4 1458,1049.8 1460.4,978.3 1462.8,934.5 1469.6,997.1 1476.4,1099.3 1476.7,1099.3 1478.8,1026 1481,981 1481.3,981 1483.5,996.8 1485.8,1022.6 1486.1,1022.6 1488.2,1002.6 1490.4,990.4 1492.7,1099.8 1495.1,1278.3 1499.5,1127.3 1504,1034.8 1506.3,1088.9 1508.7,1177.3 1513.4,1027.6 1518,935.9 1524.8,986.6 1531.6,1069.2 1536.4,974.8 1541.2,917 1547.9,972.1 1554.6,1062 1559.2,1005 1563.9,970 1566,997.9 1568.2,1043.4 1571.4,968.7 1574.6,923 1577.1,829.9 1579.6,867.8 1582.2,929.4 1584.5,905.9 1586.8,891.5 1589,911.6 1591.1,944.5 1593.3,773.3 1594.6,736.4 1595.8,713.8 1597.4,741.9 1599,787.7 1602,851.1 1605,954.5 1609.5,896.4 1614,860.8 1616.6,999.3 1619.1,1225.3 1623.4,1014.8 1627.7,885.7 1633.4,887.2 1635.3,925.3 1637.3,987.5 1639.3,932.4 1641.3,898.6 1646.3,890.7 1648.4,981.9 1650.6,1130.7 1653.5,909.1 1656.3,773.3 1658.5,728.9 1660.6,701.7 1664.9,679.4 1669.9,701.7 1671.7,728.9 1673.5,773.3 1675.8,869.1 1678.1,1025.5 1680.1,940.6 1682.1,888.6 1687.9,886 1692.2,989.4 1696.5,1157.9 1698.8,1049.4 1701,982.9 1706.5,991.8 1711.5,994.7 1715.4,1014 1717.6,985.1 1719.8,967.4 1724.1,1043.6 1728.4,1168 1730.9,1107.2 1733.4,1069.9 1735.7,1097.4 1738,1142.2 1742.7,1022.3 1747.3,948.8 1751.8,1023.4 1756.2,1145.1 1756.5,1145 1760.8,1025.2 1765,951.7 1765.3,951.7 1770.1,950.9 1772.4,935 1774.7,925.1 1777,1004.1 1779.4,1132.9 1781.5,1070.3 1783.7,1031.9 1788,1052 1790.5,1006.2 1793,978.2 1795.4,1041.2 1797.7,1144 1800,1036.3 1802.3,970.3 1807.3,978.9 1809.3,1005.9 1811.3,1049.8 1813.6,1017.9 1815.9,998.2 1820.9,1010.4 1823.1,782.6 1825.2,642.9 1827.5,821.2 1829.8,1112.2 1830.1,1112.9 1833.1,1048.5 1836,1009 1839.6,960.1 1843.2,930.2 1847.8,1056.5 1852.5,1262.7 1854.6,1114.3 1856.8,1023.3 1858.9,957.6 1861.1,917.3 1866.1,912.2 1868.6,943 1871.1,993.2 1875.7,997.5 1878.8,858.5 1881.9,773.3 1884.7,737.8 1887.6,716 1893.8,696.2 1896.8,709.2 1899.8,730.3 1903,757.6 1906.2,802 1909.1,866.8 1912,972.4 1916.6,941.8 1921.3,923 1925.9,907.2 1931.3,923 1933.2,996.5 1935.2,1116.5 1935.5,1117.9 1937.3,1035.3 1939.2,984.6 1944.2,980.3 1946.5,1001.8 1948.8,1036.9 1955.8,947.2 1962.8,892.2 1967.4,981 1971.9,1125.8 1972.2,1127.2 1974.2,1018.4 1976.2,951.7 1981.5,966 1983.8,939.3 1986.1,923 1990.6,977.5 1995.1,1066.3 1996.9,989.9 1998.7,943.1 2003.7,941.6 2006.4,899 2009.1,872.9"/>
</g>
<g id="ticks" stroke="#262626" stroke-width="3" fill="none">
<line x1="571.5" y1="1579.0" x2="571.5" y2="1561.0"/>
<line x1="571.5" y1="133.0" x2="571.5" y2="151.0"/>
<line x1="877.5" y1="1579.0" x2="877.5" y2="1561.0"/>
<line x1="877.5" y1="133.0" x2="877.5" y2="151.0"/>
<line x1="1182.5" y1="1579.0" x2="1182.5" y2="1561.0"/>
<line x1="1182.5" y1="133.0" x2="1182.5" y2="151.0"/>
<line x1="1488.5" y1="1579.0" x2="1488.5" y2="1561.0"/>
<line x1="1488.5" y1="133.0" x2="1488.5" y2="151.0"/>
<line x1="1794.5" y1="1579.0" x2="1794.5" y2="1561.0"/>
<line x1="1794.5" y1="133.0" x2="1794.5" y2="151.0"/>
<line x1="268.0" y1="1437.5" x2="286.0" y2="1437.5"/>
<line x1="2098.0" y1="1437.5" x2="2080.0" y2="1437.5"/>
<line x1="268.0" y1="1294.5" x2="286.0" y2="1294.5"/>
<line x1="2098.0" y1="1294.5" x2="2080.0" y2="1294.5"/>
<line x1="268.0" y1="1150.5" x2="286.0" y2="1150.5"/>
<line x1="2098.0" y1="1150.5" x2="2080.0" y2="1150.5"/>
<line x1="268.0" y1="1006.5" x2="286.0" y2="1006.5"/>
<line x1="2098.0" y1="1006.5" x2="2080.0" y2="1006.5"/>
<line x1="268.0" y1="863.5" x2="286.0" y2="863.5"/>
<line x1="2098.0" y1="863.5" x2="2080.0" y2="863.5"/>
<line x1="268.0" y1="719.5" x2="286.0" y2="719.5"/>
<line x1="2098.0" y1="719.5" x2="2080.0" y2="719.5"/>
<line x1="268.0" y1="576.5" x2="286.0" y2="576.5"/>
<line x1="2098.0" y1="576.5" x2="2080.0" y2="576.5"/>
<line x1="268.0" y1="432.5" x2="286.0" y2="432.5"/>
<line x1="2098.0" y1="432.5" x2="2080.0" y2="432.5"/>
<line x1="268.0" y1="289.5" x2="286.0" y2="289.5"/>
<line x1="2098.0" y1="289.5" x2="2080.0" y2="289.5"/>
<line x1="268.0" y1="145.5" x2="286.0" y2="145.5"/>
<line x1="2098.0" y1="145.5" x2="2080.0" y2="145.5"/>
</g>
<rect x="266.0" y="131.0" width="1834.0" height="1450.0" fill="none" stroke="#262626" stroke-width="4"/>
<g id="xticklabels" text-anchor="middle">
<text class="tk" transform="translate(265.4 1659.7) scale(1 1.028)">−600</text>
<text class="tk" transform="translate(571.1 1659.7) scale(1 1.028)">−400</text>
<text class="tk" transform="translate(876.7 1659.7) scale(1 1.028)">−200</text>
<text class="tk" transform="translate(1182.4 1659.7) scale(1 1.028)">0</text>
<text class="tk" transform="translate(1488.1 1659.7) scale(1 1.028)">200</text>
<text class="tk" transform="translate(1793.7 1659.7) scale(1 1.028)">400</text>
<text class="tk" transform="translate(2099.4 1659.7) scale(1 1.028)">600</text>
</g>
<g id="yticklabels" text-anchor="end">
<text class="tk" transform="translate(239.5 1602) scale(1 1.028)">−100</text>
<text class="tk" transform="translate(239.5 1458.4) scale(1 1.028)">−90</text>
<text class="tk" transform="translate(239.5 1314.8) scale(1 1.028)">−80</text>
<text class="tk" transform="translate(239.5 1171.3) scale(1 1.028)">−70</text>
<text class="tk" transform="translate(239.5 1027.7) scale(1 1.028)">−60</text>
<text class="tk" transform="translate(239.5 884.1) scale(1 1.028)">−50</text>
<text class="tk" transform="translate(239.5 740.5) scale(1 1.028)">−40</text>
<text class="tk" transform="translate(239.5 596.9) scale(1 1.028)">−30</text>
<text class="tk" transform="translate(239.5 453.4) scale(1 1.028)">−20</text>
<text class="tk" transform="translate(239.5 309.8) scale(1 1.028)">−10</text>
<text class="tk" transform="translate(239.5 166.2) scale(1 1.028)">0</text>
</g>
<text class="tt" transform="translate(1181 104.2) scale(1 1.035)" text-anchor="middle">Velocity dimension output</text>
<text class="lb" transform="translate(1180.5 1744.2) scale(1 1.035)" text-anchor="middle">Velocity(m/s)</text>
<text class="lb" transform="translate(74 855) rotate(-90) scale(1 1.035)" text-anchor="middle">Normalized amplitude(dB)</text>
<g id="legend">
<rect x="1550" y="1253" width="486" height="294" fill="#ffffff" stroke="#262626" stroke-width="4"/>
<line x1="1566" y1="1296" x2="1736" y2="1296" stroke="#0072BD" stroke-width="4" shape-rendering="crispEdges"/>
<text class="lg" transform="translate(1748.3 1315.9) scale(1 1.055)">RFT</text>
<line x1="1566" y1="1366" x2="1736" y2="1366" stroke="#000000" stroke-width="4" shape-rendering="crispEdges"/>
<text class="lg" transform="translate(1748.3 1385.9) scale(1 1.055)">ARFT</text>
<line x1="1566" y1="1435" x2="1736" y2="1435" stroke="#FF0000" stroke-width="4" shape-rendering="crispEdges"/>
<text class="lg" transform="translate(1748.3 1454.9) scale(1 1.055)">IARFT</text>
<line x1="1566" y1="1505" x2="1736" y2="1505" stroke="#16D430" stroke-width="4" shape-rendering="crispEdges"/>
<text class="lg" transform="translate(1748.3 1524.9) scale(1 1.055)">APC-IARFT</text>
</g>
</svg>
</body></html>
